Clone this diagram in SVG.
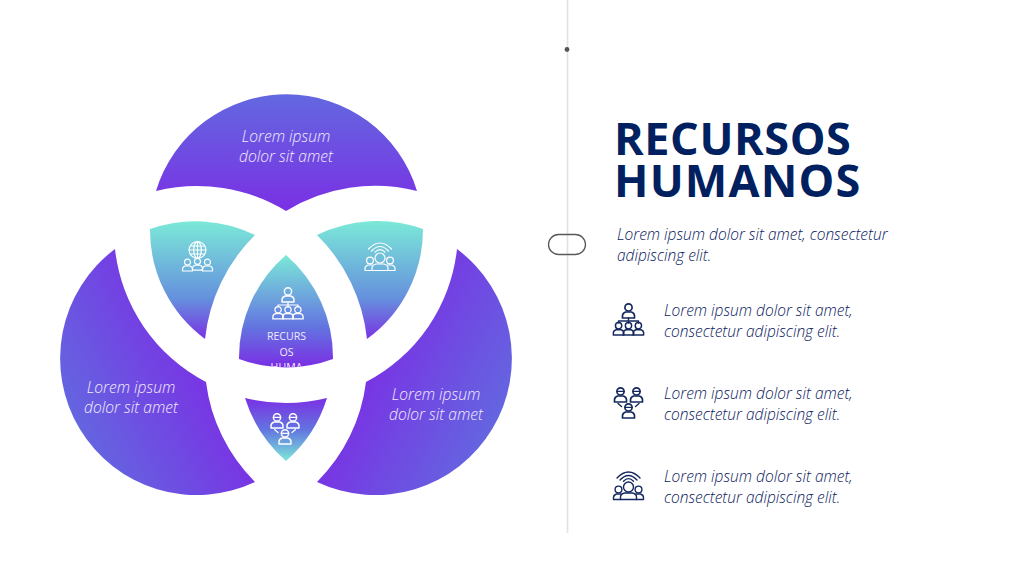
<svg xmlns="http://www.w3.org/2000/svg" width="1024" height="576" viewBox="0 0 1024 576">
<style>
.lbl{font-family:"Open Sans","Liberation Sans",sans-serif;font-style:italic;font-weight:300;font-size:15.6px;fill:#f3ecff;text-anchor:middle}
.txt{font-family:"Open Sans","Liberation Sans",sans-serif;font-style:italic;font-weight:300;font-size:15.5px;fill:#0c2060}
.ttl{font-family:"Open Sans","Liberation Sans",sans-serif;font-weight:700;font-size:45px;fill:#002060}
.mid{font-family:"Open Sans","Liberation Sans",sans-serif;font-size:10.6px;fill:#f0eaff;text-anchor:middle}
.iw{fill:none;stroke:#ffffff;stroke-width:1.2;stroke-linejoin:round;stroke-linecap:round}
.in{fill:none;stroke:#14285f;stroke-width:1.4;stroke-linejoin:round;stroke-linecap:round}
</style>
<defs>
<linearGradient id="gTop" gradientUnits="userSpaceOnUse" x1="286" y1="94" x2="286" y2="211"><stop offset="0" stop-color="#6368e0"/><stop offset="1" stop-color="#7a30e4"/></linearGradient>
<linearGradient id="gLeft" gradientUnits="userSpaceOnUse" x1="75" y1="440" x2="215" y2="370"><stop offset="0" stop-color="#6368e0"/><stop offset="1" stop-color="#7a30e4"/></linearGradient>
<linearGradient id="gRight" gradientUnits="userSpaceOnUse" x1="497" y1="440" x2="357" y2="370"><stop offset="0" stop-color="#6368e0"/><stop offset="1" stop-color="#7a30e4"/></linearGradient>
<linearGradient id="gTeal" gradientUnits="userSpaceOnUse" x1="0" y1="222" x2="0" y2="340"><stop offset="0" stop-color="#7be8d8"/><stop offset="0.65" stop-color="#6590dd"/><stop offset="1" stop-color="#7a30e4"/></linearGradient>
<linearGradient id="gMid" gradientUnits="userSpaceOnUse" x1="0" y1="255" x2="0" y2="366"><stop offset="0" stop-color="#7be8d8"/><stop offset="0.65" stop-color="#6374e0"/><stop offset="1" stop-color="#7a30e4"/></linearGradient>
<linearGradient id="gBot" gradientUnits="userSpaceOnUse" x1="0" y1="398" x2="0" y2="461"><stop offset="0" stop-color="#7a30e4"/><stop offset="0.5" stop-color="#6374e0"/><stop offset="1" stop-color="#7be8d8"/></linearGradient>
<clipPath id="cMid"><path d="M286,255A135.5,135.5 0 0 1 333,359A135.5,135.5 0 0 1 239,359A135.5,135.5 0 0 1 286,255Z"/></clipPath>
<g id="p"><circle cx="0" cy="-3.4" r="3"/><path d="M-5,5.4V3.6Q-5,1.2 -2.4,0.4H2.4Q5,1.2 5,3.6V5.4Z"/></g>
<g id="org"><use href="#p" transform="translate(0,-8.500) scale(1.2)"/><path d="M0,-2V1M-10,1H10M-10,1V3M0,1V3M10,1V3"/><use href="#p" transform="translate(-9.900,9.300) scale(1.05)"/><use href="#p" transform="translate(0,9.300) scale(1.05)"/><use href="#p" transform="translate(9.900,9.300) scale(1.05)"/></g>
<g id="net"><use href="#p" transform="translate(-8,-7.500) scale(1.2)"/><use href="#p" transform="translate(8,-7.500) scale(1.2)"/><use href="#p" transform="translate(0,8.500) scale(1.2)"/><path d="M-11.600,-11.600H-4.400M4.400,-11.600H11.600M-3.600,4.400H3.600M-10.500,0.500L-7,3.500M10.500,0.500L7,3.500"/></g>
<g id="wifi"><path d="M-11.500,-8Q0,-20 11.500,-8M-8.500,-6Q0,-15 8.500,-6M-5,-4.800Q0,-10 5,-4.800"/><circle cx="0" cy="1" r="5"/><path d="M-8,13.500V11Q-8,8 -4,7H4Q8,8 8,11V13.500Z"/><circle cx="-10" cy="3.500" r="3.400"/><circle cx="10" cy="3.500" r="3.400"/><path d="M-8,13.500H-15V11.500Q-15,9 -12,8H-7.500M8,13.500H15V11.500Q15,9 12,8H7.500"/></g>
<g id="globe"><circle cx="0" cy="-6" r="8.400"/><ellipse cx="0" cy="-6" rx="3.800" ry="8.400"/><path d="M0,-14.400V2.400M-8.400,-6H8.400M-7.200,-10H7.200M-7.200,-2H7.200"/><use href="#p" transform="translate(-10,9.600)"/><use href="#p" transform="translate(0,8.800)"/><use href="#p" transform="translate(10,9.600)"/></g>
</defs>
<rect width="1024" height="576" fill="#ffffff"/>
<g id="connectors">
<line x1="567.500" y1="0" x2="567.500" y2="533" stroke="#e2e2e2" stroke-width="1.600"/>
</g>
<g id="timeline-dot"><circle cx="567" cy="49.500" r="2.400" fill="#555555"/></g>
<g id="timeline-pill"><rect x="548.500" y="234.500" width="37" height="20" rx="10" ry="10" fill="none" stroke="#595959" stroke-width="1.300"/></g>

<g id="node-top">
<path d="M156,191A136.400,136.400 0 0 1 417,191A171,171 0 0 0 286,211A171,171 0 0 0 156,191Z" fill="url(#gTop)"/>
<text class="lbl" x="286" y="142">Lorem ipsum</text>
<text class="lbl" x="286" y="162">dolor sit amet</text>
</g>
<g id="node-left">
<path d="M115,249A136.600,136.600 0 0 0 255,482A171,171 0 0 1 206,382A171,171 0 0 1 115,249Z" fill="url(#gLeft)"/>
<text class="lbl" x="131" y="393">Lorem ipsum</text>
<text class="lbl" x="131" y="413">dolor sit amet</text>
</g>
<g id="node-right">
<path d="M457,249A136.600,136.600 0 0 1 317,482A171,171 0 0 0 366,382A171,171 0 0 0 457,249Z" fill="url(#gRight)"/>
<text class="lbl" x="436" y="400">Lorem ipsum</text>
<text class="lbl" x="436" y="420">dolor sit amet</text>
</g>
<g id="node-top-left">
<path d="M150,229A135.500,135.500 0 0 1 255,235A171,171 0 0 0 205,339A135.500,135.500 0 0 1 150,229Z" fill="url(#gTeal)"/>
<use href="#globe" class="iw" transform="translate(197.500,256)"/>
</g>
<g id="node-top-right">
<path d="M423,229A135.500,135.500 0 0 0 317,235A171,171 0 0 1 367,339A135.500,135.500 0 0 0 423,229Z" fill="url(#gTeal)"/>
<use href="#wifi" class="iw" transform="translate(380,257)"/>
</g>
<g id="node-center">
<path d="M286,255A135.500,135.500 0 0 1 333,359A135.500,135.500 0 0 1 239,359A135.500,135.500 0 0 1 286,255Z" fill="url(#gMid)"/>
<use href="#org" class="iw" transform="translate(288,304)"/>
<g clip-path="url(#cMid)">
<text class="mid" x="286.500" y="340">RECURS</text>
<text class="mid" x="286.500" y="356">OS</text>
<text class="mid" x="286.500" y="371">HUMA</text>
</g>
</g>
<g id="node-bottom">
<path d="M245,398A171,171 0 0 0 327,398A137,137 0 0 1 286,461A137,137 0 0 1 245,398Z" fill="url(#gBot)"/>
<use href="#net" class="iw" transform="translate(285,429)"/>
</g>

<g id="title">
<text class="ttl"><tspan x="614" y="155" letter-spacing="0.600">RECURSOS</tspan><tspan x="614" y="197" letter-spacing="1.200">HUMANOS</tspan></text>
</g>
<g id="intro">
<text class="txt" x="617" y="240">Lorem ipsum dolor sit amet, consectetur</text>
<text class="txt" x="617" y="261">adipiscing elit.</text>
</g>
<g id="item-1">
<use href="#org" class="in" transform="translate(628.500,320)"/>
<text class="txt" x="664" y="316">Lorem ipsum dolor sit amet,</text>
<text class="txt" x="664" y="337">consectetur adipiscing elit.</text>
</g>
<g id="item-2">
<use href="#net" class="in" transform="translate(628.500,403)"/>
<text class="txt" x="664" y="399">Lorem ipsum dolor sit amet,</text>
<text class="txt" x="664" y="420">consectetur adipiscing elit.</text>
</g>
<g id="item-3">
<use href="#wifi" class="in" transform="translate(628.500,486)"/>
<text class="txt" x="664" y="482">Lorem ipsum dolor sit amet,</text>
<text class="txt" x="664" y="503">consectetur adipiscing elit.</text>
</g>
</svg>
